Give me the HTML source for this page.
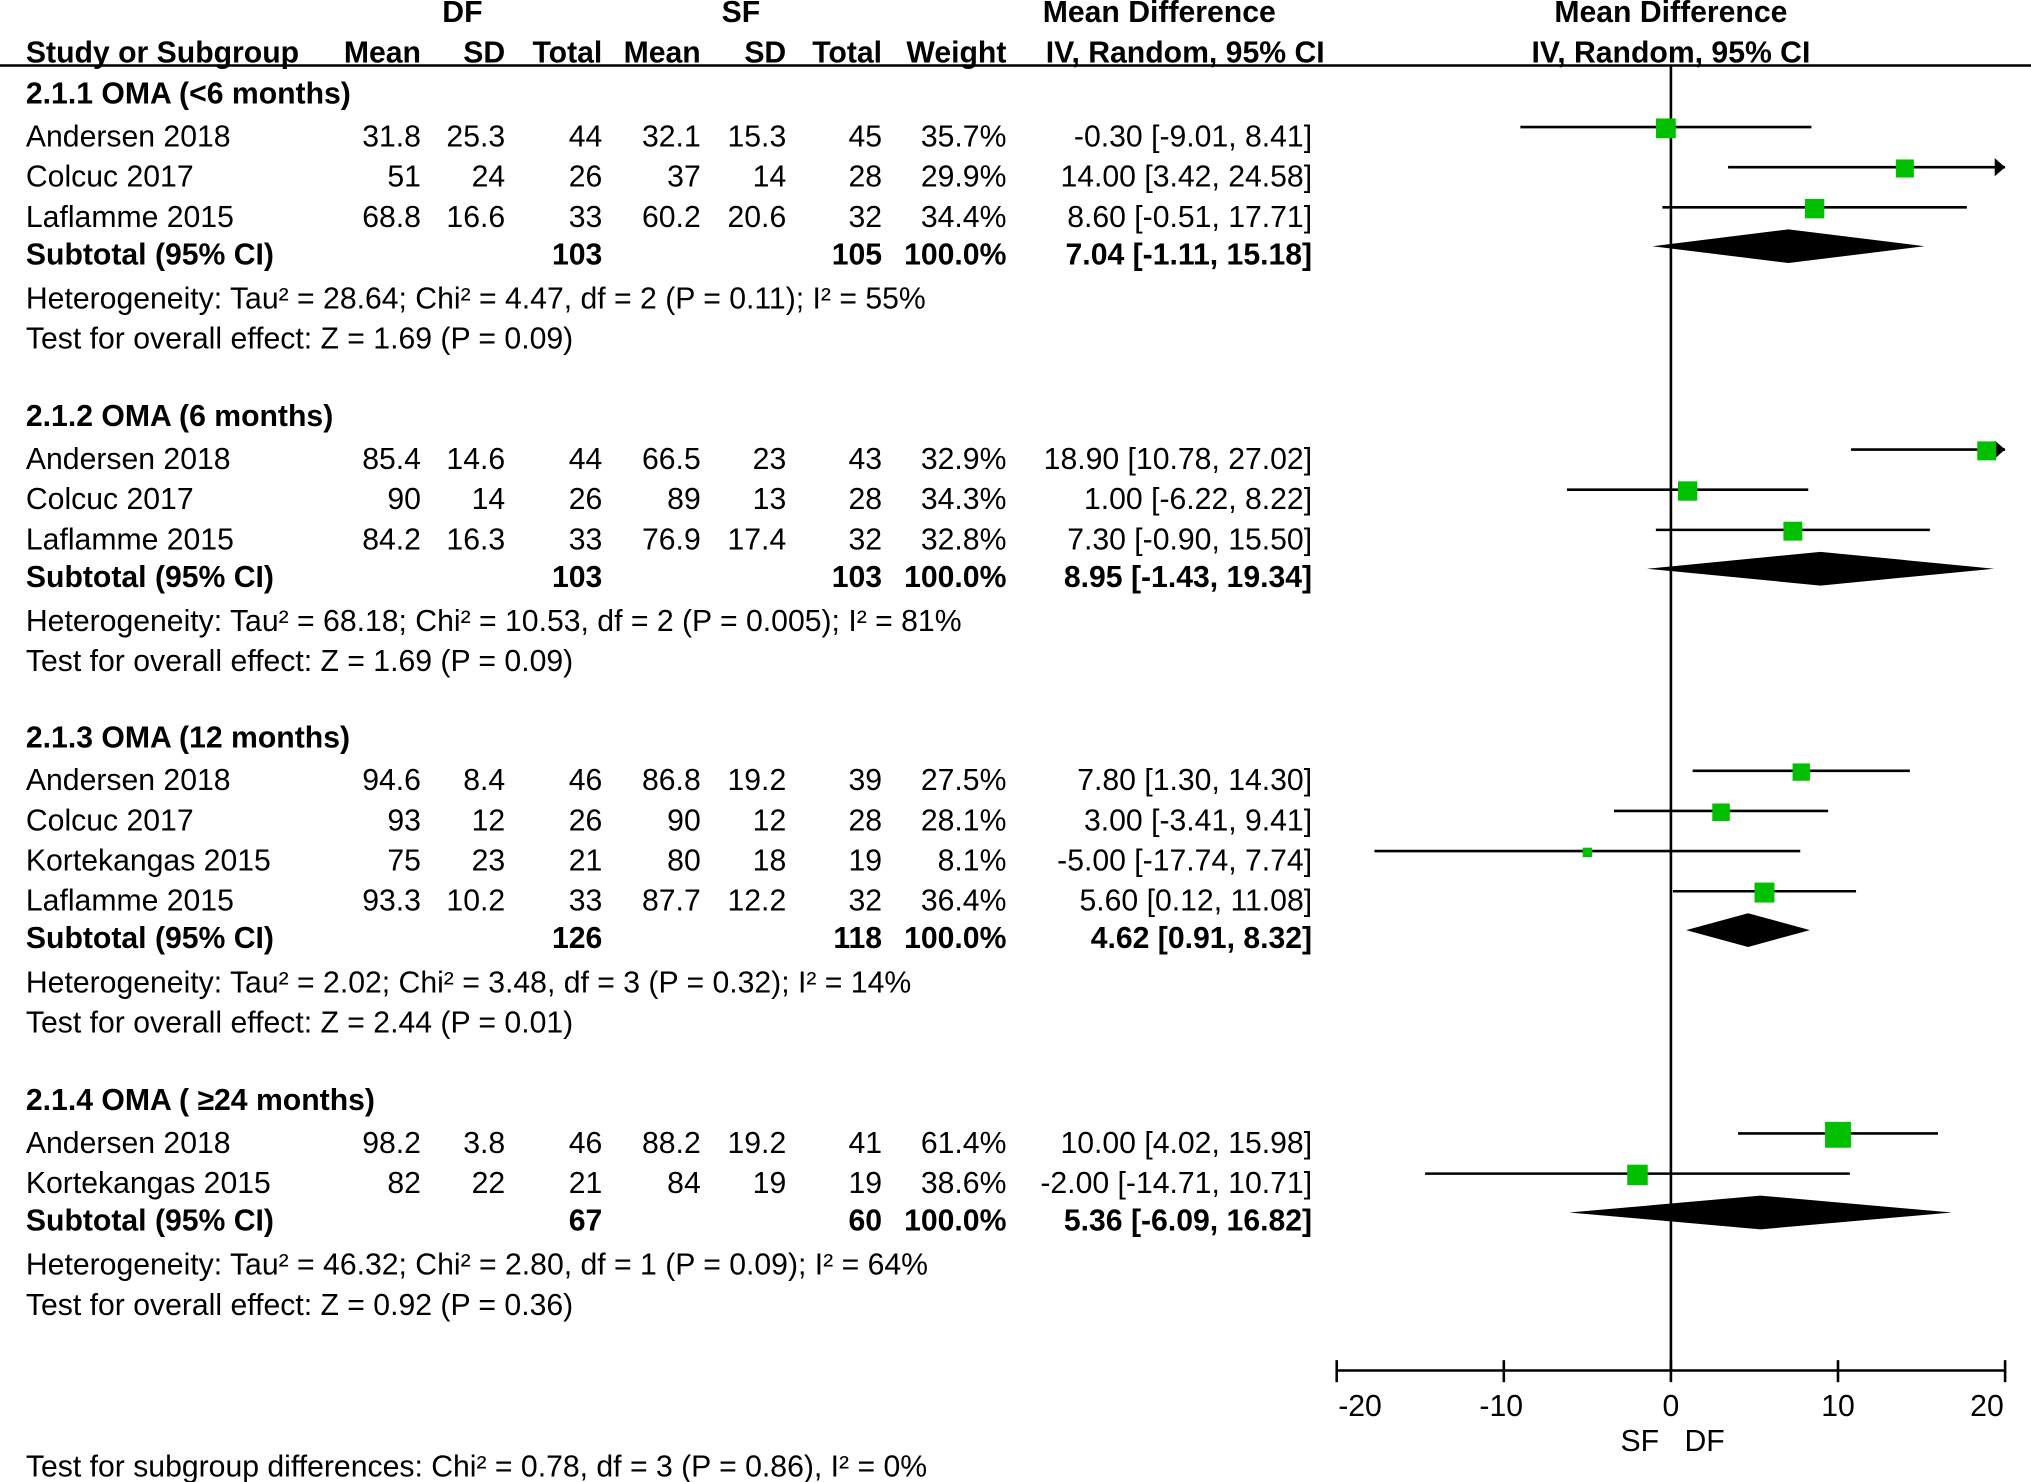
<!DOCTYPE html>
<html><head><meta charset="utf-8"><style>
html,body{margin:0;padding:0;background:#fff;}
svg{display:block;}
text{font-family:"Liberation Sans",Arial,sans-serif;font-size:23.3px;fill:#000;}
.b{font-weight:bold;}
</style></head><body>
<svg id="fp" width="2031" height="1482" viewBox="0 0 1568 1144" xmlns="http://www.w3.org/2000/svg">
<g>
<text class="b" x="357" y="17" text-anchor="middle">DF</text>
<text class="b" x="572" y="17" text-anchor="middle">SF</text>
<text class="b" x="895" y="17" text-anchor="middle">Mean Difference</text>
<text class="b" x="1290" y="17" text-anchor="middle">Mean Difference</text>
<text class="b" x="20" y="48">Study or Subgroup</text>
<text class="b" x="325" y="48" text-anchor="end">Mean</text>
<text class="b" x="390" y="48" text-anchor="end">SD</text>
<text class="b" x="465" y="48" text-anchor="end">Total</text>
<text class="b" x="541" y="48" text-anchor="end">Mean</text>
<text class="b" x="607" y="48" text-anchor="end">SD</text>
<text class="b" x="681" y="48" text-anchor="end">Total</text>
<text class="b" x="777" y="48" text-anchor="end">Weight</text>
<text class="b" x="915" y="48" text-anchor="middle">IV, Random, 95% CI</text>
<text class="b" x="1290" y="48" text-anchor="middle">IV, Random, 95% CI</text>
<line x1="0" y1="50.5" x2="1568" y2="50.5" stroke="#000" stroke-width="2"/>
</g>
<g id="rows"></g>
<g id="plot"></g>
<text x="20" y="1140">Test for subgroup differences: Chi² = 0.78, df = 3 (P = 0.86), I² = 0%</text>
</svg>
<script>
const groupTitles = ["2.1.1 OMA (<6 months)","2.1.2 OMA (6 months)","2.1.3 OMA (12 months)","2.1.4 OMA ( ≥24 months)"];
const groupStart = [80, 329, 577, 857];
const studyGroup = [0,0,0,1,1,1,2,2,2,2,3,3];
const studyNames = ["Andersen 2018","Colcuc 2017","Laflamme 2015","Andersen 2018","Colcuc 2017","Laflamme 2015","Andersen 2018","Colcuc 2017","Kortekangas 2015","Laflamme 2015","Andersen 2018","Kortekangas 2015"];
const dfMean = ["31.8","51","68.8","85.4","90","84.2","94.6","93","75","93.3","98.2","82"];
const dfSD = ["25.3","24","16.6","14.6","14","16.3","8.4","12","23","10.2","3.8","22"];
const dfN = [44,26,33,44,26,33,46,26,21,33,46,21];
const sfMean = ["32.1","37","60.2","66.5","89","76.9","86.8","90","80","87.7","88.2","84"];
const sfSD = ["15.3","14","20.6","23","13","17.4","19.2","12","18","12.2","19.2","19"];
const sfN = [45,28,32,43,28,32,39,28,19,32,41,19];
const weights = [35.7,29.9,34.4,32.9,34.3,32.8,27.5,28.1,8.1,36.4,61.4,38.6];
const md = [-0.30,14.00,8.60,18.90,1.00,7.30,7.80,3.00,-5.00,5.60,10.00,-2.00];
const ciLo = [-9.01,3.42,-0.51,10.78,-6.22,-0.90,1.30,-3.41,-17.74,0.12,4.02,-14.71];
const ciHi = [8.41,24.58,17.71,27.02,8.22,15.50,14.30,9.41,7.74,11.08,15.98,10.71];
const subN1 = [103,103,126,67];
const subN2 = [105,103,118,60];
const subMd = [7.04,8.95,4.62,5.36];
const subLo = [-1.11,-1.43,0.91,-6.09];
const subHi = [15.18,19.34,8.32,16.82];
const hetText = ["Heterogeneity: Tau² = 28.64; Chi² = 4.47, df = 2 (P = 0.11); I² = 55%","Heterogeneity: Tau² = 68.18; Chi² = 10.53, df = 2 (P = 0.005); I² = 81%","Heterogeneity: Tau² = 2.02; Chi² = 3.48, df = 3 (P = 0.32); I² = 14%","Heterogeneity: Tau² = 46.32; Chi² = 2.80, df = 1 (P = 0.09); I² = 64%"];
const testText = ["Test for overall effect: Z = 1.69 (P = 0.09)","Test for overall effect: Z = 1.69 (P = 0.09)","Test for overall effect: Z = 2.44 (P = 0.01)","Test for overall effect: Z = 0.92 (P = 0.36)"];
const xTicks = [-20,-10,0,10,20];
const xMin = -20, xMax = 20;

const NS = "http://www.w3.org/2000/svg";
const X0 = 1032, X1 = 1548;
function xs(v){ return X0 + (v - xMin) / (xMax - xMin) * (X1 - X0); }
function mk(tag, attrs, parent, txt){
  const e = document.createElementNS(NS, tag);
  for (const k in attrs) e.setAttribute(k, attrs[k]);
  if (txt !== undefined) e.textContent = txt;
  parent.appendChild(e); return e;
}
function f2(v){ return v.toFixed(2); }
const rowsG = document.getElementById('rows');
const plotG = document.getElementById('plot');

const zl = mk('line',{x1:xs(0),y1:50,x2:xs(0),y2:1058,stroke:'#000','stroke-width':2},plotG);


const ax = mk('line',{x1:xs(xMin),y1:1058,x2:xs(xMax),y2:1058,stroke:'#000','stroke-width':2},plotG);


xTicks.forEach(t=>{
  const tk = mk('line',{x1:xs(t),y1:1050,x2:xs(t),y2:1067,stroke:'#000','stroke-width':2},plotG);
  
  
  let off = 0;
  if (t === xMin) off = 18;
  else if (t === xMax) off = -14;
  else if (t < 0) off = -2;
  const tl = mk('text',{x:xs(t)+off,y:1093,'text-anchor':'middle'},plotG,String(t));
  
  
});
const sfl = mk('text',{x:xs(0)-24,y:1120,'text-anchor':'middle'},plotG,'SF');


const dfl = mk('text',{x:xs(0)+26,y:1120,'text-anchor':'middle'},plotG,'DF');



for (let g = 0; g < groupTitles.length; g++){
  const gt = mk('text',{x:20,y:groupStart[g],class:'b'},rowsG,groupTitles[g]);
  
  
  let y = groupStart[g] + 33;
  let last = y;
  for (let i = 0; i < studyNames.length; i++){
    if (studyGroup[i] !== g) continue;
    const row = mk('g',{},rowsG);
    
    
    mk('text',{x:20,y:y},row,studyNames[i]);
    mk('text',{x:325,y:y,'text-anchor':'end'},row,dfMean[i]);
    mk('text',{x:390,y:y,'text-anchor':'end'},row,dfSD[i]);
    mk('text',{x:465,y:y,'text-anchor':'end'},row,String(dfN[i]));
    mk('text',{x:541,y:y,'text-anchor':'end'},row,sfMean[i]);
    mk('text',{x:607,y:y,'text-anchor':'end'},row,sfSD[i]);
    mk('text',{x:681,y:y,'text-anchor':'end'},row,String(sfN[i]));
    mk('text',{x:777,y:y,'text-anchor':'end'},row,weights[i].toFixed(1)+'%');
    mk('text',{x:1013,y:y,'text-anchor':'end'},row,f2(md[i])+' ['+f2(ciLo[i])+', '+f2(ciHi[i])+']');
    const my = y - 15;
    const lo = Math.max(ciLo[i], xMin), hi = Math.min(ciHi[i], xMax);
    const ci = mk('line',{x1:xs(lo),y1:my,x2:xs(hi),y2:my,stroke:'#000','stroke-width':2},plotG);
    
    
    if (ciHi[i] > xMax){
      const ar = mk('polygon',{points:`${xs(xMax)},${my} ${xs(xMax)-8},${my-7} ${xs(xMax)-8},${my+7}`,fill:'#000'},plotG);
      
      
    }
    if (ciLo[i] < xMin){
      const al = mk('polygon',{points:`${xs(xMin)},${my} ${xs(xMin)+8},${my-7} ${xs(xMin)+8},${my+7}`,fill:'#000'},plotG);
      
      
    }
    const s = Math.max(5, Math.sqrt(weights[i]) * 2.55);
    const sq = mk('rect',{x:xs(md[i])-s/2,y:my-s/2+1,width:s,height:s,fill:'#00c000'},plotG);
    
    
    last = y; y += 31;
  }
  const sy = last + 29;
  const sr = mk('g',{class:'b'},rowsG);
  
  
  mk('text',{x:20,y:sy},sr,'Subtotal (95% CI)');
  mk('text',{x:465,y:sy,'text-anchor':'end'},sr,String(subN1[g]));
  mk('text',{x:681,y:sy,'text-anchor':'end'},sr,String(subN2[g]));
  mk('text',{x:777,y:sy,'text-anchor':'end'},sr,'100.0%');
  mk('text',{x:1013,y:sy,'text-anchor':'end'},sr,f2(subMd[g])+' ['+f2(subLo[g])+', '+f2(subHi[g])+']');
  const dy = sy - 14;
  const dm = mk('polygon',{points:`${xs(subLo[g])},${dy} ${xs(subMd[g])},${dy-13} ${xs(subHi[g])},${dy} ${xs(subMd[g])},${dy+13}`,fill:'#000'},plotG);
  
  
  const ht = mk('text',{x:20,y:sy+34},rowsG,hetText[g]);
  
  
  const tt = mk('text',{x:20,y:sy+65},rowsG,testText[g]);
  
  
}
</script>
</body></html>
